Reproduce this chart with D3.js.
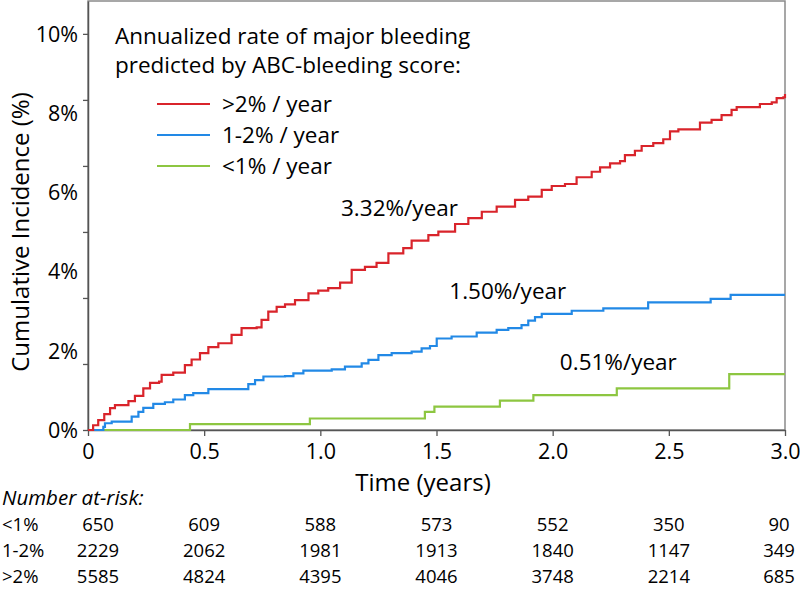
<!DOCTYPE html>
<html><head><meta charset="utf-8">
<script src="https://cdn.jsdelivr.net/npm/d3@7/dist/d3.min.js"></script>
<style>
body{margin:0;background:#fff}
svg{display:block}
text{font-family:'Open Sans',sans-serif;fill:#000}
</style>
</head><body>
<svg id="chart" width="800" height="589"></svg>
<script>
// ---- data ----
const seriesNames = [">2% / year", "1-2% / year", "<1% / year"];
const seriesColors = ["#d9242b", "#2289e6", "#8dc641"];
const rateLabels = ["3.32%/year", "1.50%/year", "0.51%/year"];

const redT = [0,0.022,0.044,0.07,0.095,0.116,0.174,0.202,0.238,0.267,0.306,0.317,0.367,0.417,0.446,0.482,0.518,0.561,0.618,0.661,0.726,0.747,0.776,0.812,0.848,0.891,0.949,0.991,1.034,1.085,1.135,1.192,1.242,1.293,1.357,1.393,1.465,1.508,1.580,1.637,1.695,1.759,1.838,1.895,1.953,1.996,2.053,2.103,2.168,2.204,2.247,2.290,2.311,2.354,2.383,2.433,2.476,2.505,2.541,2.605,2.634,2.684,2.727,2.770,2.792,2.885,2.892,2.943,2.964,2.993,3.0];
const redV = [0,0.12,0.25,0.40,0.55,0.63,0.73,0.86,1.05,1.19,1.22,1.39,1.45,1.64,1.78,1.94,2.09,2.19,2.40,2.57,2.59,2.78,2.99,3.11,3.17,3.28,3.45,3.52,3.58,3.72,4.04,4.12,4.22,4.46,4.59,4.78,4.92,5.01,5.20,5.35,5.51,5.64,5.81,5.89,6.06,6.16,6.21,6.38,6.52,6.63,6.73,6.79,6.94,7.05,7.17,7.24,7.34,7.54,7.59,7.59,7.76,7.83,7.95,8.08,8.15,8.15,8.23,8.27,8.38,8.40,8.48];

const blueT = [0,0.066,0.073,0.102,0.174,0.188,0.217,0.238,0.281,0.331,0.367,0.417,0.453,0.518,0.647,0.690,0.719,0.755,0.848,0.884,0.927,1.049,1.106,1.178,1.207,1.25,1.307,1.393,1.436,1.472,1.501,1.565,1.673,1.759,1.809,1.866,1.895,1.924,1.953,2.082,2.218,2.411,2.680,2.766,3.0];
const blueV = [0,0.08,0.17,0.21,0.21,0.34,0.46,0.56,0.66,0.70,0.77,0.88,0.93,1.03,1.03,1.16,1.26,1.35,1.36,1.43,1.50,1.53,1.60,1.68,1.77,1.89,1.94,1.98,2.06,2.12,2.31,2.36,2.46,2.53,2.57,2.65,2.76,2.85,2.93,3.01,3.07,3.22,3.31,3.41,3.41];

const greenT = [0,0.439,0.955,1.450,1.491,1.773,1.917,2.276,2.760,3.0];
const greenV = [0,0.15,0.29,0.46,0.59,0.74,0.88,1.05,1.41,1.41];

const xTicks = [0,0.5,1.0,1.5,2.0,2.5,3.0];
const yLabels = [0,2,4,6,8,10];
const riskGroups = ["<1%", "1-2%", ">2%"];
const riskLow = [650,609,588,573,552,350,90];
const riskMid = [2229,2062,1981,1913,1840,1147,349];
const riskHigh = [5585,4824,4395,4046,3748,2214,685];

// ---- layout ----
const svg = d3.select("#chart");
const x = d3.scaleLinear().domain([0,3]).range([88,785]);
const y = d3.scaleLinear().domain([0,10.83]).range([430,1]);

// frame
svg.append("rect").attr("x",x(0)).attr("y",y(10.83)).attr("width",x(3)-x(0)).attr("height",y(0)-y(10.83))
  .attr("fill","none").attr("stroke","#8a8a8a").attr("stroke-width",1.5);

// y axis: tick marks at 6 divisions, labels every 2%
const yTickVals = d3.range(7).map(i => i*10/6);
const yAx = svg.append("g").attr("transform",`translate(${x(0)},0)`)
  .call(d3.axisLeft(y).tickValues(yTickVals).tickFormat("").tickSize(5).tickSizeOuter(0));
yAx.select(".domain").attr("stroke","#555").attr("stroke-width",1.5);
yAx.selectAll(".tick line").attr("stroke","#555").attr("stroke-width",1.3);
svg.append("g").selectAll("text").data(yLabels).join("text")
  .attr("x",78).attr("y",d=>y(d)).attr("dy","0.36em").attr("text-anchor","end")
  .style("font-size","21.5px").text(d=>d+"%");

// x axis
const xAx = svg.append("g").attr("transform",`translate(0,${y(0)})`)
  .call(d3.axisBottom(x).tickValues(xTicks).tickFormat(d=>d===0?"0":d.toFixed(1)).tickSize(6).tickSizeOuter(0).tickPadding(8));
xAx.select(".domain").attr("stroke","#555").attr("stroke-width",1.5);
xAx.selectAll(".tick line").attr("stroke","#555").attr("stroke-width",1.3);
xAx.selectAll(".tick text").attr("font-family","'Open Sans',sans-serif").style("font-size","21.5px").attr("fill","#000");

// axis titles
svg.append("text").attr("x",423).attr("y",491).attr("text-anchor","middle")
  .style("font-size","24px").text("Time (years)");
svg.append("text").attr("transform","translate(29,232) rotate(-90)").attr("text-anchor","middle")
  .style("font-size","24px").text("Cumulative Incidence (%)");

// Kaplan-Meier style step curves
const stepLine = d3.line().x(d=>x(d[0])).y(d=>y(d[1])).curve(d3.curveStepAfter);
const series = [d3.zip(redT,redV), d3.zip(blueT,blueV), d3.zip(greenT,greenV)];
[2,1,0].forEach(idx=>{
  svg.append("path").datum(series[idx]).attr("d", stepLine).attr("fill","none")
    .attr("stroke",seriesColors[idx]).attr("stroke-width",2.2).attr("stroke-linejoin","miter");
});

// rate annotations
const ratePos = [[1.089,5.40],[1.555,3.30],[2.031,1.52]];
svg.append("g").selectAll("text").data(rateLabels).join("text")
  .attr("x",(d,i)=>x(ratePos[i][0])).attr("y",(d,i)=>y(ratePos[i][1]))
  .style("font-size","22.5px").text(d=>d);

// legend
const lg = svg.append("g");
lg.append("text").attr("x",115).attr("y",44).style("font-size","22.5px").text("Annualized rate of major bleeding");
lg.append("text").attr("x",115).attr("y",73).style("font-size","22.5px").text("predicted by ABC-bleeding score:");
seriesNames.forEach((n,i)=>{
  const yy = 104 + i*31;
  lg.append("line").attr("x1",157).attr("x2",210).attr("y1",yy).attr("y2",yy)
    .attr("stroke",seriesColors[i]).attr("stroke-width",2);
  lg.append("text").attr("x",222).attr("y",yy).attr("dy","0.36em").style("font-size","22.5px").text(n);
});

// number at risk table
svg.append("text").attr("x",2).attr("y",505).style("font-size","20.5px").style("font-style","italic").text("Number at-risk:");
const riskRows = [riskLow, riskMid, riskHigh];
riskRows.forEach((row,r)=>{
  const by = 531 + r*26;
  svg.append("text").attr("x",2).attr("y",by).style("font-size","18.5px").text(riskGroups[r]);
  svg.append("g").selectAll("text").data(row).join("text")
    .attr("x",(d,i)=> i===0 ? x(xTicks[i])+10 : (i===row.length-1 ? x(xTicks[i])-6 : x(xTicks[i])))
    .attr("y",by).attr("text-anchor","middle").style("font-size","18.5px").text(d=>d);
});
</script>
</body></html>
